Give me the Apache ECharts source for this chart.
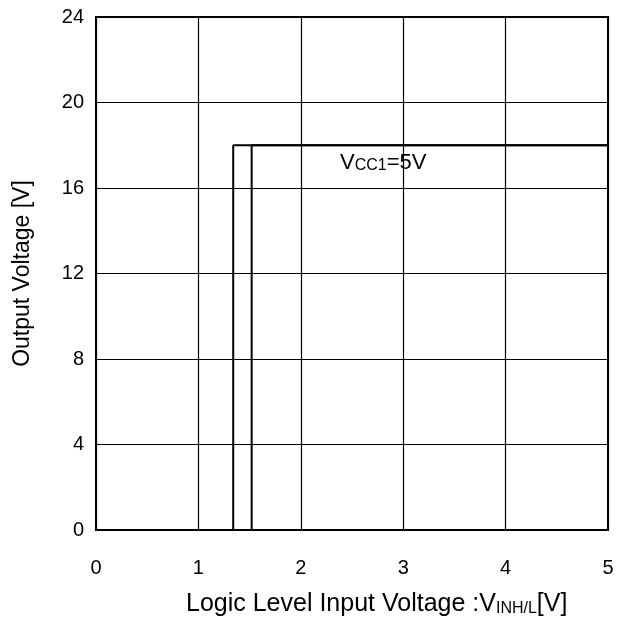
<!DOCTYPE html>
<html>
<head>
<meta charset="utf-8">
<script src="https://cdn.jsdelivr.net/npm/echarts@6/dist/echarts.min.js"></script>
<style>
  html, body { margin: 0; padding: 0; background: #fff; }
  #chart { width: 632px; height: 622px; }
</style>
</head>
<body>
<div id="chart"></div>
<script>
// 输入电压阈值（两条转换曲线）
const xTicks = [0, 1, 2, 3, 4, 5]
const yTicks = [0, 4, 8, 12, 16, 20, 24]
const curveLowX = [0, 1.34, 1.34, 5]
const curveLowY = [0, 0, 18, 18]
const curveHighX = [0, 1.52, 1.52, 5]
const curveHighY = [0, 0, 18, 18]

const font = 'Liberation Sans, Arial, sans-serif'
const chart = echarts.init(document.getElementById('chart'))

function toPairs(xs, ys) {
  return xs.map((x, i) => [x, ys[i]])
}

let option = {
  animation: false,
  grid: { left: 96, right: 24, top: 17, bottom: 92, containLabel: false },
  xAxis: {
    type: 'value',
    min: xTicks[0],
    max: xTicks[xTicks.length - 1],
    interval: 1,
    axisLine: { show: true, lineStyle: { color: '#000', width: 2 } },
    axisTick: { show: false },
    splitLine: { show: true, lineStyle: { color: '#000', width: 1.2 } },
    axisLabel: { color: '#000', fontSize: 20, fontFamily: font, margin: 28 }
  },
  yAxis: {
    type: 'value',
    min: yTicks[0],
    max: yTicks[yTicks.length - 1],
    interval: 4,
    axisLine: { show: true, lineStyle: { color: '#000', width: 2 } },
    axisTick: { show: false },
    splitLine: { show: true, lineStyle: { color: '#000', width: 1.2 } },
    axisLabel: { color: '#000', fontSize: 20, fontFamily: font, margin: 12 },
    name: 'Output Voltage [V]',
    nameLocation: 'middle',
    nameGap: 62,
    nameTextStyle: { color: '#000', fontSize: 23, fontFamily: font }
  },
  graphic: [
    {
      // 右边框、上边框
      type: 'rect',
      shape: { x: 96, y: 17, width: 512, height: 513 },
      style: { fill: 'none', stroke: '#000', lineWidth: 2 },
      silent: true
    },
    {
      // x轴标题
      type: 'text',
      left: 186,
      top: 592,
      style: {
        text: '{n|Logic Level Input Voltage :V}{s|INH/L}{n|[V]}',
        rich: {
          n: { fontSize: 25, fontFamily: font, fill: '#000' },
          s: { fontSize: 16, fontFamily: font, fill: '#000', padding: [8, 0, 0, 0] }
        }
      }
    },
    {
      type: 'text',
      left: 340,
      top: 152,
      style: {
        text: '{n|V}{s|CC1}{n|=5V}',
        rich: {
          n: { fontSize: 22, fontFamily: font, fill: '#000' },
          s: { fontSize: 16, fontFamily: font, fill: '#000', padding: [5, 0, 0, 0] }
        }
      }
    }
  ],
  series: [
    {
      type: 'line',
      data: toPairs(curveLowX, curveLowY),
      symbol: 'none',
      lineStyle: { color: '#000', width: 2 }
    },
    {
      type: 'line',
      data: toPairs(curveHighX, curveHighY),
      symbol: 'none',
      lineStyle: { color: '#000', width: 2 }
    }
  ]
}

chart.setOption(option)
</script>
</body>
</html>
